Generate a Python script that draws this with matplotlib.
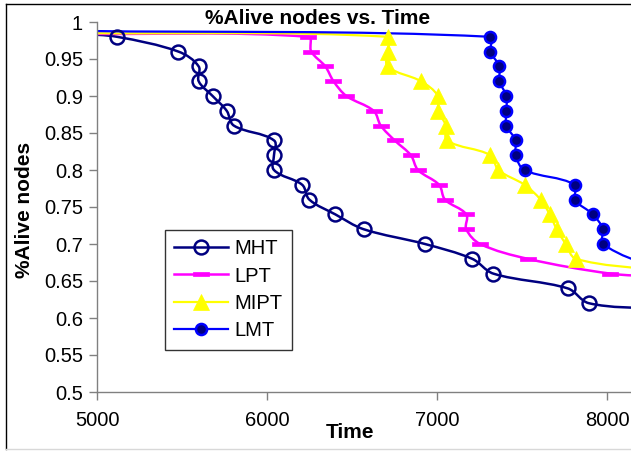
import numpy as np
import matplotlib
matplotlib.use('Agg')
import matplotlib.pyplot as plt
from matplotlib.path import Path
from matplotlib.patches import PathPatch
from matplotlib.lines import Line2D

plt.rcParams['font.family'] = ['Liberation Sans', 'DejaVu Sans']

# Data (first / last points lie just outside the visible x range)
mht_x = [4900, 5118, 5479, 5598, 5598, 5680, 5763, 5805, 6041, 6041, 6041,
         6207, 6249, 6402, 6568, 6929, 7207, 7331, 7769, 7893, 8300]
mht_y = [0.984, 0.98, 0.96, 0.94, 0.92, 0.90, 0.88, 0.86, 0.84, 0.82, 0.80,
         0.78, 0.76, 0.74, 0.72, 0.70, 0.68, 0.66, 0.64, 0.62, 0.612]

lpt_x = [4900, 6243, 6260, 6343, 6391, 6467, 6627, 6669, 6751, 6846, 6888,
         7012, 7047, 7172, 7172, 7254, 7533, 8018, 8300]
lpt_y = [0.984, 0.98, 0.96, 0.94, 0.92, 0.90, 0.88, 0.86, 0.84, 0.82, 0.80,
         0.78, 0.76, 0.74, 0.72, 0.70, 0.68, 0.66, 0.656]

mipt_x = [4900, 6710, 6710, 6710, 6905, 7006, 7006, 7053, 7059, 7314, 7361,
          7515, 7609, 7663, 7704, 7757, 7817, 8300]
mipt_y = [0.985, 0.98, 0.96, 0.94, 0.92, 0.90, 0.88, 0.86, 0.84, 0.82, 0.80,
          0.78, 0.76, 0.74, 0.72, 0.70, 0.68, 0.664]

lmt_x = [4900, 7314, 7314, 7367, 7367, 7408, 7408, 7408, 7462, 7462, 7515,
         7811, 7811, 7917, 7976, 7976, 8300]
lmt_y = [0.988, 0.98, 0.96, 0.94, 0.92, 0.90, 0.88, 0.86, 0.84, 0.82, 0.80,
         0.78, 0.76, 0.74, 0.72, 0.70, 0.665]

# rough pixel scale of the axes, used only to shape the smoothed curves
SX, SY = 0.17, 740.0


def smooth_path(x, y):
    # bezier segments with tangents from neighbours, like Excel's smoothed lines
    p = np.column_stack([np.asarray(x) * SX, np.asarray(y) * SY]).astype(float)
    n = len(p)
    tang = []
    for i in range(n):
        a = p[i - 1] if i > 0 else p[i]
        b = p[i + 1] if i + 1 < n else p[i]
        t = b - a
        tang.append(t / (np.hypot(*t) or 1.0))
    verts = [p[0]]
    codes = [Path.MOVETO]
    for i in range(n - 1):
        d = np.hypot(*(p[i + 1] - p[i])) / 3
        verts += [p[i] + tang[i] * d, p[i + 1] - tang[i + 1] * d, p[i + 1]]
        codes += [Path.CURVE4] * 3
    verts = np.array(verts) / [SX, SY]
    return Path(verts, codes)


dash = Path([(-1, -0.32), (1, -0.32), (1, 0.32), (-1, 0.32), (-1, -0.32)],
            [Path.MOVETO, Path.LINETO, Path.LINETO, Path.LINETO, Path.CLOSEPOLY])

series = [
    ('MHT', mht_x, mht_y, '#000080', 1.8,
     dict(marker='o', markersize=10, markerfacecolor='none',
          markeredgecolor='#000080', markeredgewidth=1.8)),
    ('LPT', lpt_x, lpt_y, '#FF00FF', 1.8,
     dict(marker=dash, markersize=11, markerfacecolor='#FF00FF',
          markeredgecolor='#FF00FF', markeredgewidth=0.5)),
    ('MIPT', mipt_x, mipt_y, '#FFFF00', 1.6,
     dict(marker='^', markersize=11, markerfacecolor='#FFFF00',
          markeredgecolor='#FFFF00', markeredgewidth=0.5)),
    ('LMT', lmt_x, lmt_y, '#0000FF', 1.6,
     dict(marker='o', markersize=8, markerfacecolor='#000080',
          markeredgecolor='#0000FF', markeredgewidth=1.8)),
]

fig = plt.figure(figsize=(6.31, 4.53), dpi=100)
ax = fig.add_axes([97 / 631, 61 / 453, 534 / 631, 370 / 453])

handles = []
for name, xs, ys, col, lw, mk in series:
    ax.add_patch(PathPatch(smooth_path(xs, ys), facecolor='none',
                           edgecolor=col, lw=lw, zorder=2))
    ax.plot(xs, ys, linestyle='none', zorder=3, **mk)
    handles.append(Line2D([], [], color=col, lw=lw, **mk))

ax.set_xlim(5000, 8141)
ax.set_ylim(0.5, 1.0)
ax.set_xticks([5000, 6000, 7000, 8000])
ax.set_yticks(np.arange(0.5, 1.001, 0.05))
ax.set_yticklabels(['0.5', '0.55', '0.6', '0.65', '0.7', '0.75', '0.8',
                    '0.85', '0.9', '0.95', '1'])
ax.tick_params(labelsize=14.5, color='#808080', length=6, width=1, pad=4)
ax.tick_params(axis='x', pad=8)
for s in ['top', 'right']:
    ax.spines[s].set_visible(False)
for s in ['left', 'bottom']:
    ax.spines[s].set_color('#808080')
    ax.spines[s].set_linewidth(1)

fig.text(318 / 631, 1 - 18 / 453, '%Alive nodes vs. Time', ha='center',
         va='center', fontsize=15, fontweight='bold')
fig.text(25 / 631, 1 - 210 / 453, '%Alive nodes', rotation=90, ha='center',
         va='center', fontsize=15, fontweight='bold')
fig.text(350 / 631, 1 - 433 / 453, 'Time', ha='center', va='center',
         fontsize=15, fontweight='bold')

leg = ax.legend(handles, [s[0] for s in series], loc='upper left',
                bbox_to_anchor=(165 / 631, 1 - 230 / 453),
                bbox_transform=fig.transFigure, fontsize=14.5, frameon=True,
                fancybox=False, handlelength=2.7, labelspacing=0.42,
                borderpad=0.45, handletextpad=0.3, borderaxespad=0)
leg.get_frame().set_edgecolor('black')
leg.get_frame().set_linewidth(1)

# chart border
fig.add_artist(Line2D([6 / 631, 6 / 631], [1 - 449 / 453, 1 - 4 / 453],
                      transform=fig.transFigure, color='black', lw=1))
fig.add_artist(Line2D([6 / 631, 1], [1 - 4 / 453, 1 - 4 / 453],
                      transform=fig.transFigure, color='black', lw=1))
fig.add_artist(Line2D([6 / 631, 1], [1 - 449 / 453, 1 - 449 / 453],
                      transform=fig.transFigure, color='#d8d8d8', lw=1))

fig.savefig('out.png', dpi=100)
